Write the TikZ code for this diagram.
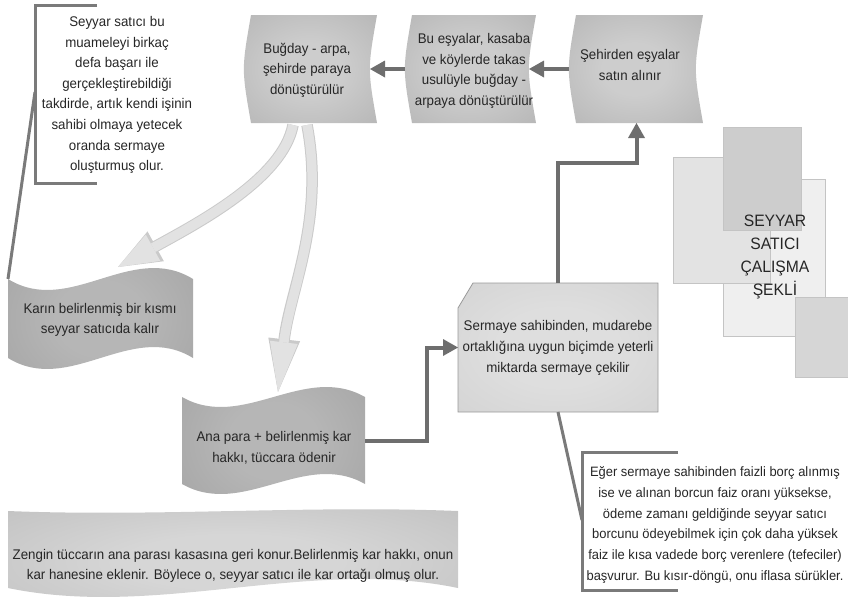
\documentclass[tikz,border=0pt]{standalone}
\usepackage{fontspec}
\setmainfont{Liberation Sans}[FakeStretch=0.95]
\usetikzlibrary{arrows.meta,calc}
\definecolor{txtc}{HTML}{262626}
\definecolor{conncol}{HTML}{6E6E6E}
\definecolor{callc}{HTML}{7A7A7A}
\definecolor{lightarr}{HTML}{E2E2E2}
\definecolor{lightedge}{HTML}{CACACA}
\definecolor{topin}{HTML}{CDCDCD}
\definecolor{topout}{HTML}{969696}
\definecolor{tapein}{HTML}{B6B6B6}
\definecolor{tapeout}{HTML}{888888}
\definecolor{zin}{HTML}{D6D6D6}
\definecolor{zout}{HTML}{A4A4A4}
\definecolor{sermin}{HTML}{DEDEDE}
\definecolor{sermout}{HTML}{C4C4C4}
\definecolor{sedge}{HTML}{9A9A9A}
\definecolor{rA}{HTML}{E3E3E3}
\definecolor{rB}{HTML}{CDCDCD}
\definecolor{rC}{HTML}{EFEFEF}
\definecolor{rD}{HTML}{D6D6D6}
\definecolor{redge}{HTML}{C4C4C4}

\pgfdeclareradialshading{topsh}{\pgfpoint{0bp}{0bp}}{color(0bp)=(topin); color(12bp)=(topin); color(72bp)=(topout)}
\pgfdeclareradialshading{tapesh}{\pgfpoint{0bp}{0bp}}{color(0bp)=(tapein); color(12bp)=(tapein); color(72bp)=(tapeout)}
\pgfdeclareradialshading{zsh}{\pgfpoint{0bp}{0bp}}{color(0bp)=(zin); color(12bp)=(zin); color(72bp)=(zout)}
\pgfdeclareradialshading{sersh}{\pgfpoint{0bp}{0bp}}{color(0bp)=(sermin); color(15bp)=(sermin); color(72bp)=(sermout)}

\newcommand\storedshape[2]{%
  \shade[shading=#2] (#1.north west)
    .. controls ($(#1.west)+(-9.5,0)$) .. (#1.south west) -- (#1.south east)
    .. controls ($(#1.east)+(-9.5,0)$) .. (#1.north east) -- cycle;}
\newcommand\tapeshape[4]{%
  \shade[shading=#4] (#1.north west)
   .. controls ($(#1.north west)!0.3333!(#1.north east)+(0,#2)$) and ($(#1.north west)!0.6667!(#1.north east)+(0,-#2)$) .. (#1.north east)
   -- (#1.south east)
   .. controls ($(#1.south west)!0.6667!(#1.south east)+(0,-#3)$) and ($(#1.south west)!0.3333!(#1.south east)+(0,#3)$) .. (#1.south west) -- cycle;}

\tikzset{
  box/.style={inner sep=0pt, outer sep=0pt, draw=none},
  txt/.style={font=\fontsize{14}{20.6}\selectfont, text=txtc, align=center, inner sep=0pt},
  smalltxt/.style={font=\fontsize{13.6}{20.8}\selectfont, text=txtc, align=center, inner sep=0pt},
  titletxt/.style={font=\fontsize{16.5}{23}\selectfont, text=txtc, align=center, inner sep=0pt},
  conn/.style={draw=conncol, line width=4pt, -{Triangle[length=15pt 0 0, width=17pt 0 0, line width=0pt]}},
  callout/.style={draw=callc, line width=3pt},
  larrowout/.style={draw=lightedge, line width=11.5pt, -{Triangle[length=#1, line width=0pt]}},
  larrowin/.style={draw=lightarr, line width=9.5pt, -{Triangle[length=#1, line width=0pt]}},
  deco/.style={draw=redge, line width=0.6pt}
}

\begin{document}
\begin{tikzpicture}[x=1pt,y=-1pt]
\useasboundingbox (0,0) rectangle (848,598);

% decorative title rectangles
\filldraw[deco, fill=rC] (723,179) rectangle (825,336);
\filldraw[deco, fill=rA] (673,157) rectangle (770,283);
\filldraw[deco, fill=rB] (723,127) rectangle (801,230);
\filldraw[deco, fill=rD] (795,297) rectangle (848,377);
\node[titletxt] (title) at (775,257) {SEYYAR\\SATICI\\ÇALIŞMA\\ŞEKLİ};

% shape frames
\node[box, minimum width=126pt, minimum height=108pt] (b1) at (314,69) {};
\node[box, minimum width=124pt, minimum height=108pt] (b2) at (474,69) {};
\node[box, minimum width=127pt, minimum height=108pt] (b3) at (639.5,69) {};
\node[box, minimum width=185pt, minimum height=79pt] (k) at (100.5,318.5) {};
\node[box, minimum width=183pt, minimum height=87pt] (a) at (273.5,440.5) {};
\node[box, minimum width=450pt, minimum height=77pt] (z) at (233,549.5) {};
\node[box, minimum width=200pt, minimum height=129pt] (s) at (558,347.5) {};

\storedshape{b1}{topsh}
\storedshape{b2}{topsh}
\storedshape{b3}{topsh}
\tapeshape{k}{38}{38}{tapesh}
\tapeshape{a}{34.6}{34.6}{tapesh}
\tapeshape{z}{6}{31}{zsh}
\shade[shading=sersh, draw=sedge, line width=0.8pt]
  (s.south west) -- ([yshift=-25pt]s.north west) -- ([xshift=15pt]s.north west)
  -- (s.north east) -- (s.south east) -- cycle;

% texts
\node[txt] (b1t) at (307,70) {Buğday - arpa,\\şehirde paraya\\dönüştürülür};
\node[txt] (b2t) at (474,71) {Bu eşyalar, kasaba\\ve köylerde takas\\usulüyle buğday -\\arpaya dönüştürülür};
\node[txt] (b3t) at (630,65) {Şehirden eşyalar\\satın alınır};
\node[txt] (kt) at (100,320) {Karın belirlenmiş bir kısmı\\seyyar satıcıda kalır};
\node[txt] (at) at (274,448) {Ana para + belirlenmiş kar\\hakkı, tüccara ödenir};
\node[txt] (st) at (558,348) {Sermaye sahibinden, mudarebe\\ortaklığına uygun biçimde yeterli\\miktarda sermaye çekilir};
\node[txt] (zt) at (233,566) {Zengin tüccarın ana parası kasasına geri konur.Belirlenmiş kar hakkı, onun\\kar hanesine eklenir. Böylece o, seyyar satıcı ile kar ortağı olmuş olur.};
\node[txt] (tl) at (117,95) {Seyyar satıcı bu\\muameleyi birkaç\\defa başarı ile\\gerçekleştirebildiği\\takdirde, artık kendi işinin\\sahibi olmaya yetecek\\oranda sermaye\\oluşturmuş olur.};
\node[smalltxt] (br) at (715,525) {Eğer sermaye sahibinden faizli borç alınmış\\ise ve alınan borcun faiz oranı yüksekse,\\ödeme zamanı geldiğinde seyyar satıcı\\borcunu ödeyebilmek için çok daha yüksek\\faiz ile kısa vadede borç verenlere (tefeciler)\\başvurur. Bu kısır-döngü, onu iflasa sürükler.};

% light curved arrows
\coordinate (la1) at ([xshift=-21pt,yshift=-2pt]b1.south);
\coordinate (la1e) at ([xshift=17.5pt,yshift=12pt]k.north);
\coordinate (lb1) at ([xshift=-7pt,yshift=-2pt]b1.south);
\coordinate (lb1e) at ([xshift=4.5pt,yshift=5pt]a.north);
\draw[larrowout={43pt 0 0, width=34pt 0 0}] (la1) .. controls (283,178) and (200,222) .. (la1e);
\draw[larrowin={40pt 0 0, width=30pt 0 0}] (la1) .. controls (283,178) and (200,222) .. (la1e);
\draw[larrowout={53pt 0 0, width=32pt 0 0}] (lb1) .. controls (325,220) and (290,290) .. (lb1e);
\draw[larrowin={50pt 0 0, width=28pt 0 0}] (lb1) .. controls (325,220) and (290,290) .. (lb1e);

% dark connectors
\draw[conn] ([xshift=-7pt]b2.west) -- ([xshift=-7pt]b1.east);
\draw[conn] ([xshift=-7pt]b3.west) -- ([xshift=-7pt]b2.east);
\draw[conn] (s.north) |- ($(b3.south)+(-3,40)$) -- ([xshift=-3pt]b3.south);
\draw[conn] (a.east) -- ++(62,0) |- (s.west);

% callouts
\draw[callout] (97,5) -- (35,5) -- (35,183) -- (97,183);
\coordinate (tlp) at (35,92);
\draw[callout] (tlp) -- (k.north west);
\draw[callout] (678,452) -- (582,452) -- (582,590) -- (678,590);
\coordinate (brp) at (582,520);
\draw[callout] (s.south) -- (brp);
\end{tikzpicture}
\end{document}
